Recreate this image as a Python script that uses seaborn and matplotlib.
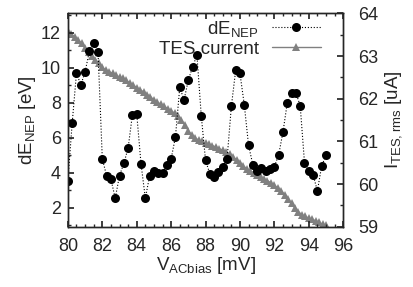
import matplotlib
matplotlib.use("Agg")
import matplotlib.pyplot as plt
import seaborn as sns
from matplotlib.ticker import MultipleLocator

# dE_NEP vs AC bias voltage
v_bias = [80.0, 80.25, 80.5, 80.75, 81.0, 81.25, 81.5, 81.75, 82.0, 82.25,
          82.5, 82.75, 83.0, 83.25, 83.5, 83.75, 84.0, 84.25, 84.5, 84.75,
          85.0, 85.25, 85.5, 85.75, 86.0, 86.25, 86.5, 86.75, 87.0, 87.25,
          87.5, 87.75, 88.0, 88.25, 88.5, 88.75, 89.0, 89.25, 89.5, 89.75,
          90.0, 90.25, 90.5, 90.75, 91.0, 91.25, 91.5, 91.75, 92.0, 92.25,
          92.5, 92.75, 93.0, 93.25, 93.5, 93.75, 94.0, 94.25, 94.5, 94.75,
          95.0]
de_nep = [3.54, 6.84, 9.71, 9.00, 9.77, 10.95, 11.44, 10.92, 4.79, 3.81,
          3.62, 2.53, 3.83, 4.52, 5.40, 7.32, 7.36, 4.50, 2.53, 3.81,
          4.06, 3.97, 4.00, 4.44, 4.79, 6.03, 8.87, 8.16, 9.29, 10.06,
          10.71, 7.26, 4.69, 3.93, 3.77, 4.02, 4.34, 4.77, 7.79, 9.84,
          9.67, 7.89, 5.55, 4.44, 4.06, 4.25, 4.11, 4.21, 4.34, 5.02,
          6.32, 7.99, 8.56, 8.56, 7.83, 4.57, 4.06, 3.87, 2.95, 4.39,
          4.98]

# TES current (rms) vs AC bias voltage
v_tes = [80.0, 80.2, 80.4, 80.6, 80.8, 81.0, 81.2, 81.4, 81.6, 81.8,
         82.0, 82.2, 82.4, 82.6, 82.8, 83.0, 83.2, 83.4, 83.6, 83.8,
         84.0, 84.2, 84.4, 84.6, 84.8, 85.0, 85.2, 85.4, 85.6, 85.8,
         86.0, 86.2, 86.4, 86.6, 86.8, 87.0, 87.2, 87.4, 87.6, 87.8,
         88.0, 88.2, 88.4, 88.6, 88.8, 89.0, 89.2, 89.4, 89.6, 89.8,
         90.0, 90.2, 90.4, 90.6, 90.8, 91.0, 91.2, 91.4, 91.6, 91.8,
         92.0, 92.2, 92.4, 92.6, 92.8, 93.0, 93.2, 93.4, 93.6, 93.8,
         94.0, 94.2, 94.4, 94.6, 94.8, 95.0]
i_tes = [63.58, 63.51, 63.45, 63.38, 63.30, 63.19, 63.10, 63.01, 62.92, 62.83,
         62.74, 62.67, 62.63, 62.60, 62.55, 62.51, 62.48, 62.43, 62.37, 62.32,
         62.26, 62.21, 62.16, 62.10, 62.05, 61.97, 61.92, 61.87, 61.82, 61.77,
         61.72, 61.66, 61.59, 61.50, 61.38, 61.25, 61.15, 61.08, 61.03, 61.00,
         60.96, 60.93, 60.90, 60.87, 60.83, 60.79, 60.75, 60.70, 60.64, 60.57,
         60.50, 60.42, 60.36, 60.31, 60.27, 60.22, 60.17, 60.12, 60.08, 60.03,
         59.97, 59.91, 59.84, 59.75, 59.65, 59.55, 59.43, 59.35, 59.28, 59.24,
         59.20, 59.17, 59.14, 59.10, 59.06, 59.03]

sns.set_theme(style="ticks")
plt.rcParams["font.family"] = ["Liberation Sans", "DejaVu Sans"]
plt.rcParams["mathtext.default"] = "regular"
plt.rcParams["axes.linewidth"] = 1.0

fs = 13.5
tfs = 13
fig = plt.figure(figsize=(4.14, 2.87), dpi=100)
ax = fig.add_axes([0.164, 0.21, 0.665, 0.743])
ax2 = ax.twinx()

sns.lineplot(x=v_tes, y=i_tes, ax=ax2, color="#808080", linewidth=1.0,
             marker="^", markersize=5.5, markeredgewidth=0, label="TES current",
             legend=False)
sns.lineplot(x=v_bias, y=de_nep, ax=ax, color="black", linewidth=0.8,
             linestyle=":", marker="o", markersize=6.5, markeredgewidth=0,
             label="dE$_{NEP}$", legend=False)

# dots drawn above the triangles
ax.set_zorder(ax2.get_zorder() + 1)
ax.patch.set_visible(False)

ax.set_xlim(80, 96)
ax.set_ylim(0.9, 13.1)
ax2.set_ylim(59, 64)

ax.xaxis.set_major_locator(MultipleLocator(2))
ax.xaxis.set_minor_locator(MultipleLocator(0.5))
ax.yaxis.set_major_locator(MultipleLocator(2))
ax.yaxis.set_minor_locator(MultipleLocator(1))
ax2.yaxis.set_major_locator(MultipleLocator(1))
ax2.yaxis.set_minor_locator(MultipleLocator(0.5))

ax.tick_params(axis="both", which="both", direction="in", labelsize=tfs,
               top=True, right=False)
ax.tick_params(axis="x", which="major", pad=8)
ax.tick_params(axis="y", which="major", pad=5)
ax.tick_params(which="major", length=4)
ax.tick_params(which="minor", length=2)
ax2.tick_params(axis="y", which="both", direction="in", labelsize=tfs, pad=11)
ax2.tick_params(which="major", length=4)
ax2.tick_params(which="minor", length=2)

ax.set_xlabel("V$_{ACbias}$ [mV]", fontsize=fs, labelpad=0)
ax.set_ylabel("dE$_{NEP}$ [eV]", fontsize=fs, labelpad=2)
ax2.set_ylabel("I$_{TES,rms}$ [uA]", fontsize=fs, labelpad=3)

# one legend per entry so the labels line up on the right (gnuplot style)
h1, l1 = ax.get_legend_handles_labels()
h2, l2 = ax2.get_legend_handles_labels()
leg_opts = dict(loc="upper right", frameon=False, fontsize=fs,
                markerfirst=False, handlelength=2.6, borderaxespad=0.0,
                borderpad=0.0, handletextpad=0.7)
leg1 = ax.legend(h1, l1, bbox_to_anchor=(0.918, 0.975), **leg_opts)
ax.add_artist(leg1)
ax.legend(h2, l2, bbox_to_anchor=(0.918, 0.872), **leg_opts)

fig.savefig("out.png", dpi=100)
plt.close(fig)
